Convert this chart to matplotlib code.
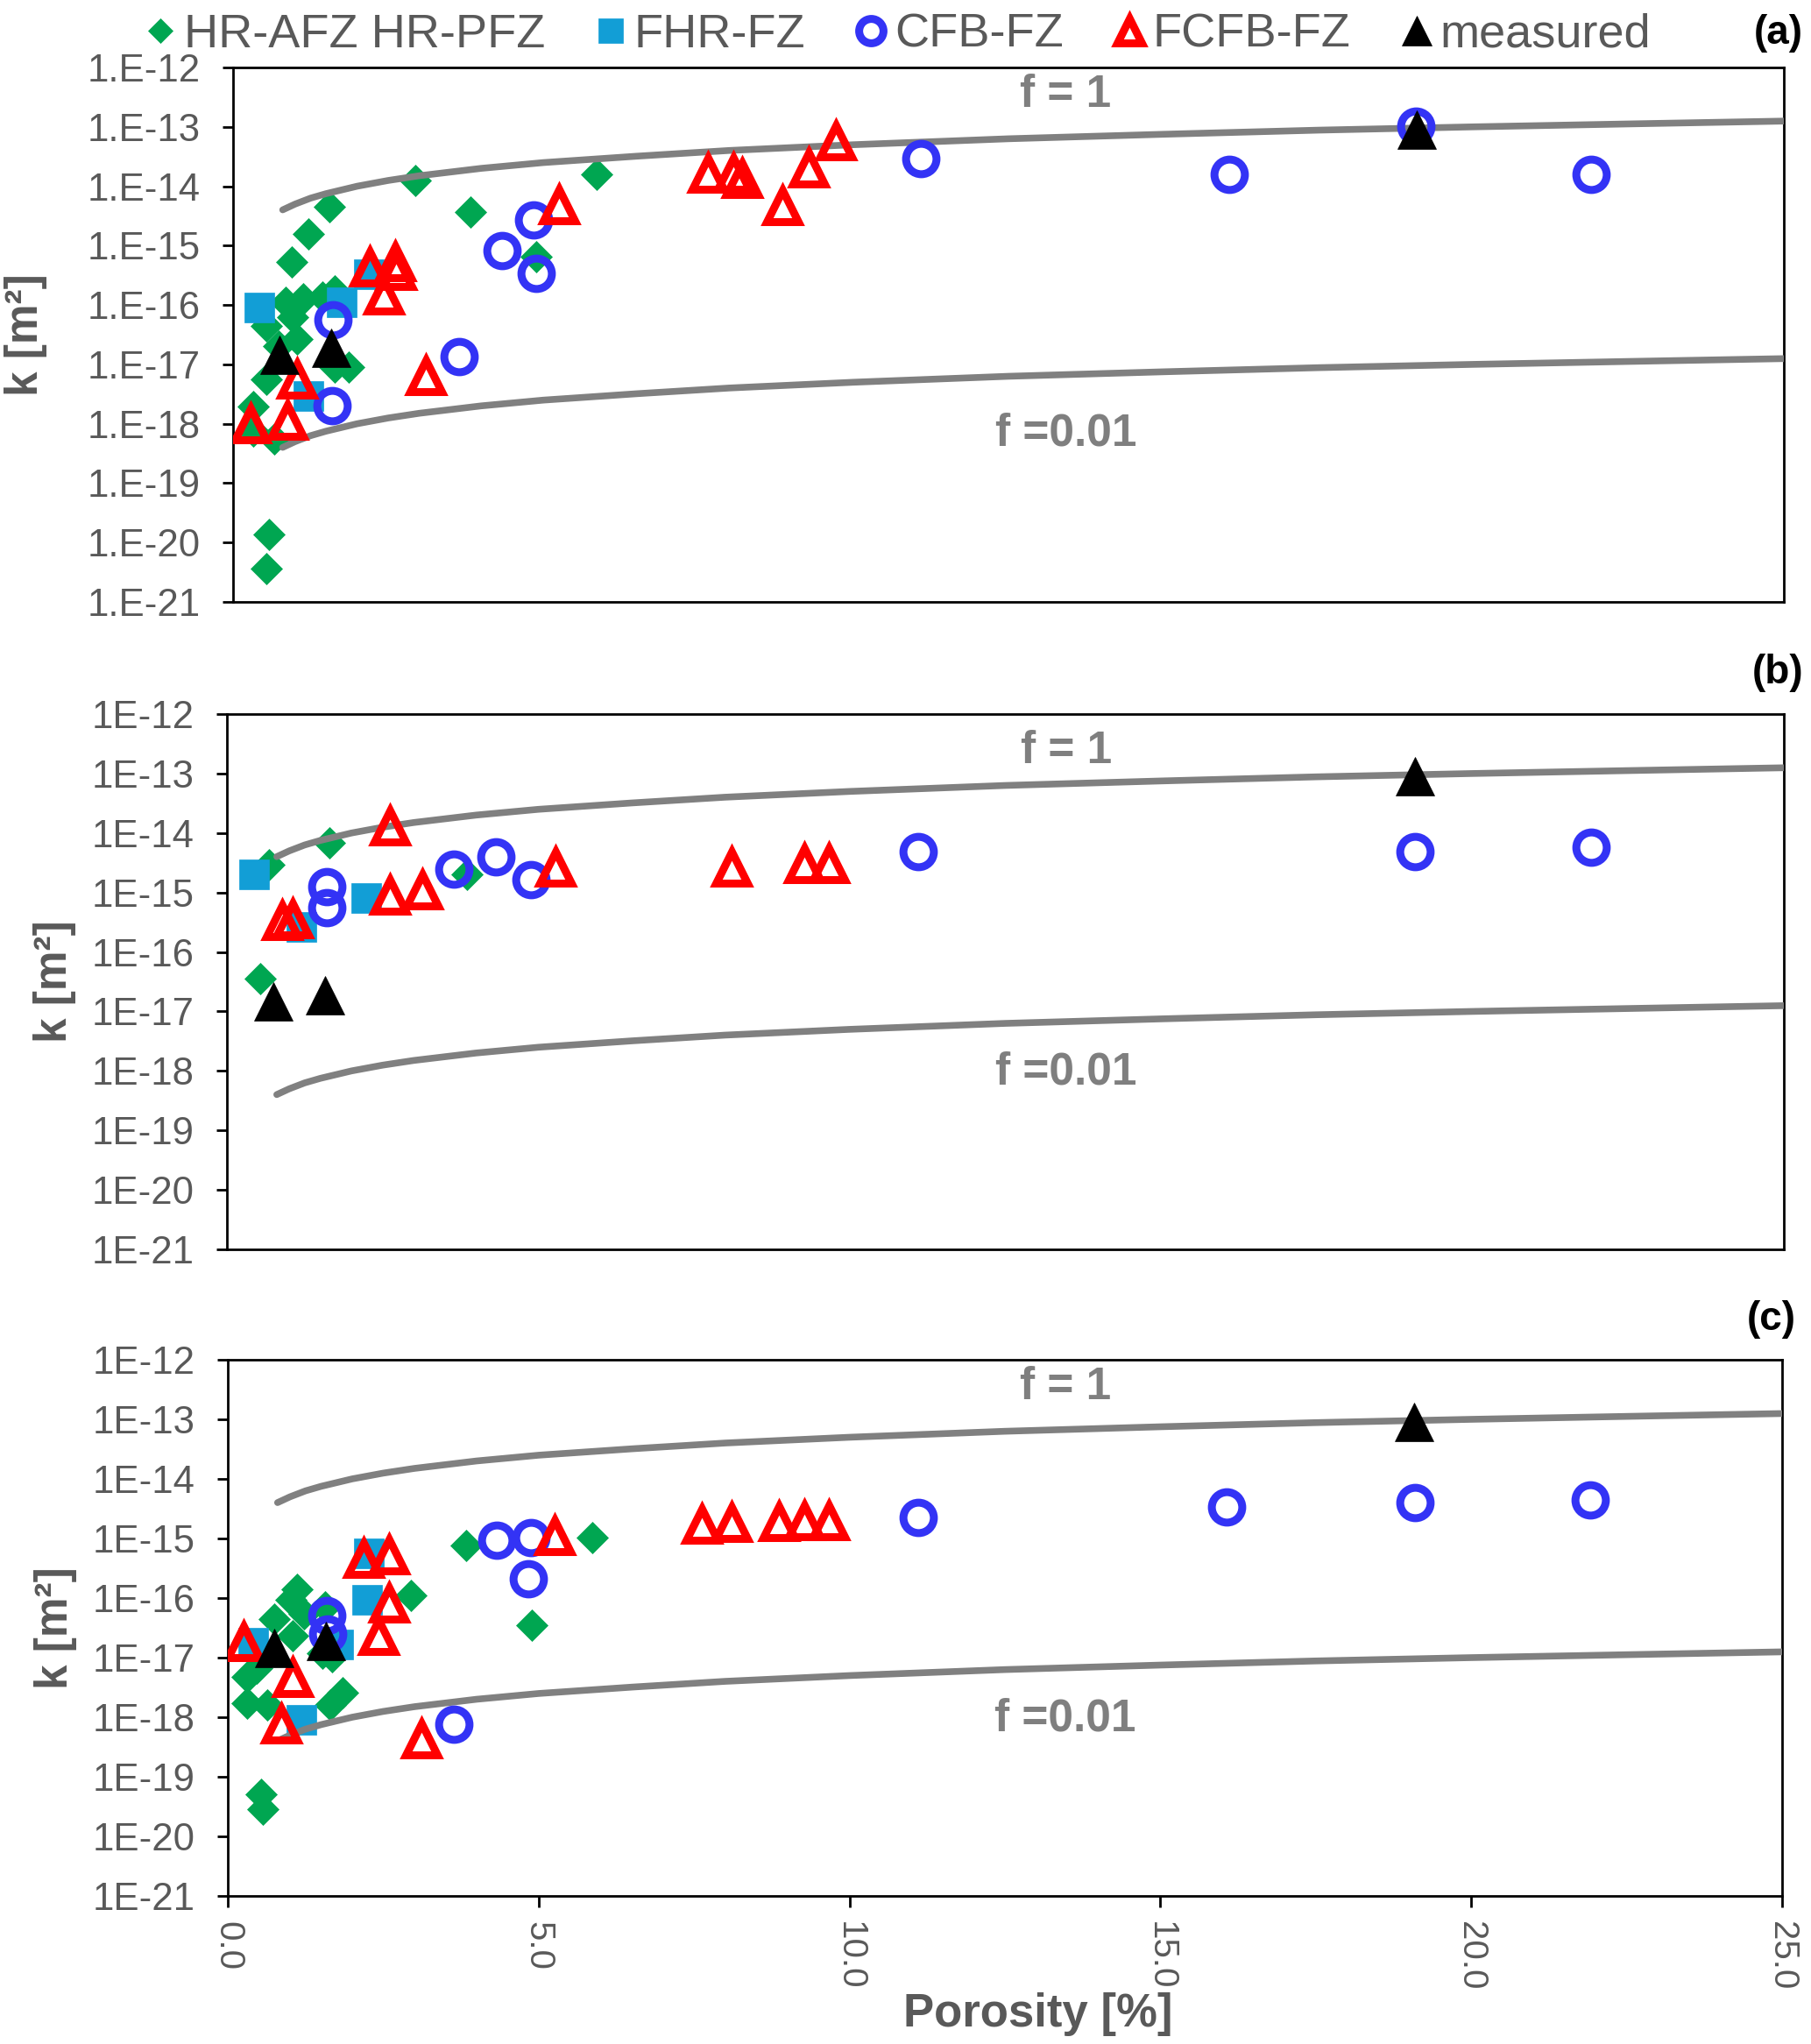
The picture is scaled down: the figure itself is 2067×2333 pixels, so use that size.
import matplotlib
matplotlib.use('Agg')
import matplotlib.pyplot as plt
from matplotlib.ticker import NullLocator

plt.rcParams['font.family'] = ['Liberation Sans', 'DejaVu Sans']

# ---------------- data (porosity [%], permeability k [m^2]) ----------------
# panel (a)
a_hr_x = [2.94, 5.86, 1.56, 3.83, 1.22, 0.94, 4.89, 0.85, 1.13, 1.44, 1.64, 0.53, 0.96,
          1.03, 0.73, 1.64, 1.86, 0.53, 0.32, 0.33, 0.66, 0.58, 0.53]
a_hr_k = [1.26e-14, 1.58e-14, 4.57e-15, 3.63e-15, 1.55e-15, 5.25e-16, 6.61e-16, 1.12e-16,
          1.26e-16, 1.35e-16, 1.70e-16, 4.37e-17, 6.31e-17, 2.69e-17, 2.04e-17, 8.91e-18,
          8.91e-18, 5.50e-18, 1.95e-18, 7.41e-19, 5.62e-19, 1.35e-20, 3.63e-21]
a_fhr_x = [0.43, 1.75, 2.19, 1.21]
a_fhr_k = [9.12e-17, 1.12e-16, 3.31e-16, 2.95e-18]
a_cfb_x = [4.84, 4.33, 4.88, 1.61, 3.64, 1.60, 11.09, 16.06, 19.07, 21.89]
a_cfb_k = [2.75e-15, 8.32e-16, 3.39e-16, 5.62e-17, 1.35e-17, 2.04e-18, 2.95e-14, 1.58e-14,
           1.02e-13, 1.58e-14]
a_fcfb_x = [5.26, 2.21, 2.61, 2.63, 2.43, 3.11, 1.03, 0.28, 0.87, 7.66, 8.06, 8.20, 8.86,
            9.28, 9.72]
a_fcfb_k = [4.90e-15, 4.37e-16, 5.37e-16, 3.80e-16, 1.45e-16, 6.31e-18, 5.50e-18, 9.77e-19,
            1.12e-18, 1.66e-14, 1.66e-14, 1.32e-14, 4.68e-15, 2.04e-14, 5.75e-14]

# panel (b)
b_hr_x = [0.67, 1.64, 3.85, 0.53]
b_hr_k = [2.88e-15, 6.92e-15, 2.00e-15, 3.55e-17]
b_fhr_x = [0.43, 2.24, 1.20]
b_fhr_k = [2.00e-15, 8.13e-16, 2.63e-16]
b_cfb_x = [1.60, 1.60, 3.64, 4.32, 4.88, 11.10, 19.08, 21.90]
b_cfb_k = [1.26e-15, 5.50e-16, 2.51e-15, 3.98e-15, 1.66e-15, 4.90e-15, 4.90e-15, 5.75e-15]
b_fcfb_x = [2.61, 0.89, 1.05, 2.61, 3.14, 5.27, 8.10, 9.27, 9.67]
b_fcfb_k = [1.32e-14, 3.31e-16, 3.63e-16, 8.91e-16, 1.10e-15, 2.63e-15, 2.63e-15, 3.02e-15,
            3.02e-15]

# panel (c)
c_hr_x = [3.83, 5.86, 2.94, 4.89, 1.12, 1.02, 1.22, 0.74, 1.04, 1.57, 1.52, 1.67, 0.31,
          0.46, 0.31, 0.64, 1.65, 1.85, 0.53, 0.56]
c_hr_k = [7.59e-16, 1.02e-15, 1.12e-16, 3.55e-17, 1.38e-16, 9.33e-17, 5.37e-17, 4.37e-17,
          2.34e-17, 7.08e-17, 1.17e-17, 1.02e-17, 4.79e-18, 6.76e-18, 1.70e-18, 1.58e-18,
          1.58e-18, 2.57e-18, 5.01e-20, 2.88e-20]
c_fhr_x = [2.27, 2.24, 0.41, 1.77, 1.19]
c_fhr_k = [5.62e-16, 9.33e-17, 1.78e-17, 1.66e-17, 9.12e-19]
c_cfb_x = [4.33, 4.87, 4.84, 1.59, 1.61, 3.63, 11.10, 16.06, 19.09, 21.91]
c_cfb_k = [9.33e-16, 1.02e-15, 2.09e-16, 5.01e-17, 2.51e-17, 7.59e-19, 2.24e-15, 3.39e-15,
           3.98e-15, 4.47e-15]
c_fcfb_x = [2.19, 2.60, 2.60, 2.42, 0.26, 1.04, 0.86, 3.12, 5.26, 7.62, 8.10, 8.86, 9.27,
            9.67]
c_fcfb_k = [4.57e-16, 5.25e-16, 8.13e-17, 2.34e-17, 1.82e-17, 4.57e-18, 7.59e-19, 4.27e-19,
            1.10e-15, 1.74e-15, 1.82e-15, 1.91e-15, 1.95e-15, 1.95e-15]

# measured samples (same in all panels)
meas_x = [0.75, 1.58, 19.08]
meas_k = [1.45e-17, 1.90e-17, 9.00e-14]

# model curves
curve_phi = [0.8, 1.0, 1.25, 1.5, 2.0, 2.5, 3.0, 4.0, 5.0, 6.5, 8.0, 10.0, 12.5, 15.0,
             17.5, 20.0, 22.5, 25.0]
k_f1 = [4.0e-15, 5.0e-15, 6.3e-15, 7.5e-15, 1.0e-14, 1.25e-14, 1.5e-14, 2.0e-14, 2.5e-14,
        3.2e-14, 4.0e-14, 5.0e-14, 6.3e-14, 7.5e-14, 8.8e-14, 1.0e-13, 1.12e-13, 1.25e-13]
k_f001 = [4.0e-19, 5.0e-19, 6.3e-19, 7.5e-19, 1.0e-18, 1.25e-18, 1.5e-18, 2.0e-18, 2.5e-18,
          3.2e-18, 4.0e-18, 5.0e-18, 6.3e-18, 7.5e-18, 8.8e-18, 1.0e-17, 1.12e-17, 1.25e-17]

series_names = ['HR-AFZ HR-PFZ', 'FHR-FZ', 'CFB-FZ', 'FCFB-FZ', 'measured']
panel_tags = ['(a)', '(b)', '(c)']
ytick_vals = [1e-12, 1e-13, 1e-14, 1e-15, 1e-16, 1e-17, 1e-18, 1e-19, 1e-20, 1e-21]
ytick_labels_a = ['1.E-12', '1.E-13', '1.E-14', '1.E-15', '1.E-16', '1.E-17', '1.E-18',
                  '1.E-19', '1.E-20', '1.E-21']
ytick_labels_bc = ['1E-12', '1E-13', '1E-14', '1E-15', '1E-16', '1E-17', '1E-18',
                   '1E-19', '1E-20', '1E-21']
xtick_vals = [0, 5, 10, 15, 20, 25]
xtick_labels = ['0.0', '5.0', '10.0', '15.0', '20.0', '25.0']

# ---------------- styling ----------------
GREEN = '#00A651'
CYAN = '#129ED6'
BLUE = '#3333F5'
RED = '#FF0000'
GRAY_LINE = '#808080'
TXT = '#595959'
FTXT = '#7F7F7F'

fig = plt.figure(figsize=(20.67, 23.33), dpi=100)
W, H = 2067.0, 2333.0
rects = [
    [266 / W, 1 - 687 / H, 1770 / W, 610 / H],
    [259 / W, 1 - 1426 / H, 1777 / W, 611 / H],
    [260 / W, 1 - 2164 / H, 1774 / W, 612 / H],
]

panels = [
    (a_hr_x, a_hr_k, a_fhr_x, a_fhr_k, a_cfb_x, a_cfb_k, a_fcfb_x, a_fcfb_k, ytick_labels_a),
    (b_hr_x, b_hr_k, b_fhr_x, b_fhr_k, b_cfb_x, b_cfb_k, b_fcfb_x, b_fcfb_k, ytick_labels_bc),
    (c_hr_x, c_hr_k, c_fhr_x, c_fhr_k, c_cfb_x, c_cfb_k, c_fcfb_x, c_fcfb_k, ytick_labels_bc),
]
f1_pos = [(0.537, 0.948), (0.539, 0.931), (0.539, 0.949)]
f001_pos = [(0.537, 0.315), (0.539, 0.331), (0.539, 0.330)]
ylab_x = [-0.120, -0.097, -0.097]
tag_pos = [(2058 / W, 1 - 38 / H), (2058 / W, 1 - 768 / H), (2050 / W, 1 - 1506 / H)]

axes = []
handles = None
for i, (hx, hk, sx, sk, cx, ck, tx, tk, ylabels) in enumerate(panels):
    ax = fig.add_axes(rects[i])
    axes.append(ax)
    h1, = ax.plot(hx, hk, linestyle='none', marker='D', ms=18, mfc=GREEN, mec=GREEN,
                  mew=0.5, zorder=3)
    h2, = ax.plot(sx, sk, linestyle='none', marker='s', ms=25, mfc=CYAN, mec=CYAN,
                  mew=0.5, zorder=3)
    ax.plot(curve_phi, k_f1, color=GRAY_LINE, lw=5.5, solid_capstyle='round', zorder=3.5)
    ax.plot(curve_phi, k_f001, color=GRAY_LINE, lw=5.5, solid_capstyle='round', zorder=3.5)
    h3, = ax.plot(cx, ck, linestyle='none', marker='o', ms=25, mfc='none', mec=BLUE,
                  mew=6.5, zorder=4)
    h4, = ax.plot(tx, tk, linestyle='none', marker='^', ms=26, mfc='none', mec=RED,
                  mew=6.5, zorder=4.5)
    h5, = ax.plot(meas_x, meas_k, linestyle='none', marker='^', ms=31, mfc='black',
                  mec='black', mew=0.5, zorder=5)
    if handles is None:
        handles = [h1, h2, h3, h4, h5]

    ax.set_yscale('log')
    ax.set_xlim(0, 25)
    ax.set_ylim(1e-21, 1e-12)
    ax.set_yticks(ytick_vals)
    ax.set_yticklabels(ylabels)
    ax.yaxis.set_minor_locator(NullLocator())
    ax.tick_params(axis='y', which='major', direction='out', length=9, width=2,
                   labelsize=31.5, labelcolor=TXT, pad=18)
    for sp in ax.spines.values():
        sp.set_linewidth(2)
        sp.set_color('black')
    if i < 2:
        ax.set_xticks([])
    else:
        ax.set_xticks(xtick_vals)
        ax.set_xticklabels(xtick_labels, rotation=-90)
        ax.tick_params(axis='x', which='major', direction='out', length=9, width=2,
                       labelsize=29, labelcolor=TXT, pad=12)
    ax.xaxis.set_minor_locator(NullLocator())

    ax.set_ylabel('k [m²]', fontsize=37, fontweight='bold', color=TXT)
    ax.yaxis.set_label_coords(ylab_x[i], 0.5)

    ax.text(f1_pos[i][0], f1_pos[i][1], 'f = 1', transform=ax.transAxes, ha='center',
            va='center', fontsize=37, fontweight='bold', color=FTXT)
    ax.text(f001_pos[i][0], f001_pos[i][1], 'f =0.01', transform=ax.transAxes,
            ha='center', va='center', fontsize=37, fontweight='bold', color=FTXT)

    fig.text(tag_pos[i][0], tag_pos[i][1], panel_tags[i], ha='right', va='center',
             fontsize=33, fontweight='bold', color='black')

axes[2].set_xlabel('Porosity [%]', fontsize=38, fontweight='bold', color=TXT)
axes[2].xaxis.set_label_coords((1185 - 260) / 1774.0, -0.180)

fig.legend(handles=handles, labels=series_names, loc='center left',
           bbox_to_anchor=(169 / W, 1 - 40 / H), ncol=5, frameon=False, fontsize=39,
           handlelength=0.5, handletextpad=0.25, columnspacing=1.13, borderpad=0,
           borderaxespad=0, markerscale=0.8, labelcolor=TXT)

fig.savefig('out.png', dpi=100)
